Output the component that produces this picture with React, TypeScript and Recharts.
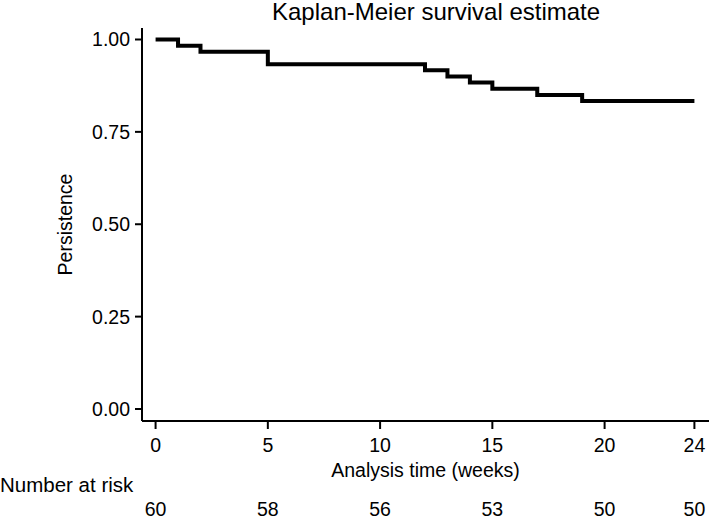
import { LineChart, Line, XAxis, YAxis, Label } from "recharts";

// Kaplan-Meier step estimate (60 subjects)
const times = [0, 1, 2, 5, 12, 13, 14, 15, 17, 19, 24];
const survival = [1, 0.9833, 0.9667, 0.9333, 0.9167, 0.9, 0.8833, 0.8667, 0.85, 0.8333, 0.8333];

const timeTicks = [0, 5, 10, 15, 20, 24];
const atRisk = [60, 58, 56, 53, 50, 50];
const yTicks = [0, 0.25, 0.5, 0.75, 1];

const data = times.map((t, i) => ({ t, s: survival[i] }));

const font = "'Liberation Sans', Helvetica, Arial, sans-serif";
const fs = 19.5;
const tickStyle = { fontSize: fs, fill: "#000", fontFamily: font };

export default function App() {
  return (
    <div style={{ position: "absolute", left: 0, top: 0, width: 709, height: 518, background: "#fff", fontFamily: font }}>
      <div
        style={{
          position: "absolute",
          top: 0,
          left: 272,
          fontSize: 24,
          lineHeight: "24px",
          whiteSpace: "nowrap",
          color: "#000",
        }}
      >
        Kaplan-Meier survival estimate
      </div>
      <LineChart width={709} height={518} data={data} margin={{ top: 28, right: 0, left: 0, bottom: 0 }}>
        <XAxis
          dataKey="t"
          type="number"
          domain={[-0.605, 24.65]}
          allowDataOverflow
          ticks={timeTicks}
          interval={0}
          height={58}
          tickSize={8}
          tickMargin={9}
          tick={tickStyle}
          axisLine={{ stroke: "#000", strokeWidth: 2 }}
          tickLine={{ stroke: "#000", strokeWidth: 2 }}
        >
          <Label
            value="Analysis time (weeks)"
            position="insideBottom"
            offset={2}
            style={{ fontSize: fs, fill: "#000", fontFamily: font }}
          />
        </XAxis>
        <XAxis
          xAxisId="risk"
          dataKey="t"
          type="number"
          domain={[-0.605, 24.65]}
          allowDataOverflow
          ticks={timeTicks}
          interval={0}
          height={39}
          tickSize={0}
          tickMargin={23}
          tick={tickStyle}
          tickFormatter={(v: number) => String(atRisk[timeTicks.indexOf(v)] ?? "")}
          axisLine={false}
          tickLine={false}
        >
          <Label
            content={(props: any) => {
              const vb = props.viewBox || { y: 479 };
              return (
                <text x={0} y={vb.y + 13} fontSize={20.5} fill="#000" fontFamily={font}>
                  Number at risk
                </text>
              );
            }}
          />
        </XAxis>
        <YAxis
          type="number"
          domain={[-0.0325, 1.0311]}
          allowDataOverflow
          ticks={yTicks}
          interval={0}
          width={142}
          tickSize={7}
          tickMargin={5}
          tick={tickStyle}
          tickFormatter={(v: number) => v.toFixed(2)}
          axisLine={{ stroke: "#000", strokeWidth: 2 }}
          tickLine={{ stroke: "#000", strokeWidth: 2 }}
        >
          <Label
            content={(props: any) => {
              const vb = props.viewBox || { y: 28, height: 393 };
              const cy = vb.y + vb.height / 2;
              return (
                <text
                  x={71.5}
                  y={cy}
                  transform={`rotate(-90, 71.5, ${cy})`}
                  textAnchor="middle"
                  fontSize={fs}
                  fill="#000"
                  fontFamily={font}
                >
                  Persistence
                </text>
              );
            }}
          />
        </YAxis>
        <Line
          type="stepAfter"
          dataKey="s"
          stroke="#000"
          strokeWidth={4}
          dot={false}
          activeDot={false}
          isAnimationActive={false}
        />
      </LineChart>
    </div>
  );
}
